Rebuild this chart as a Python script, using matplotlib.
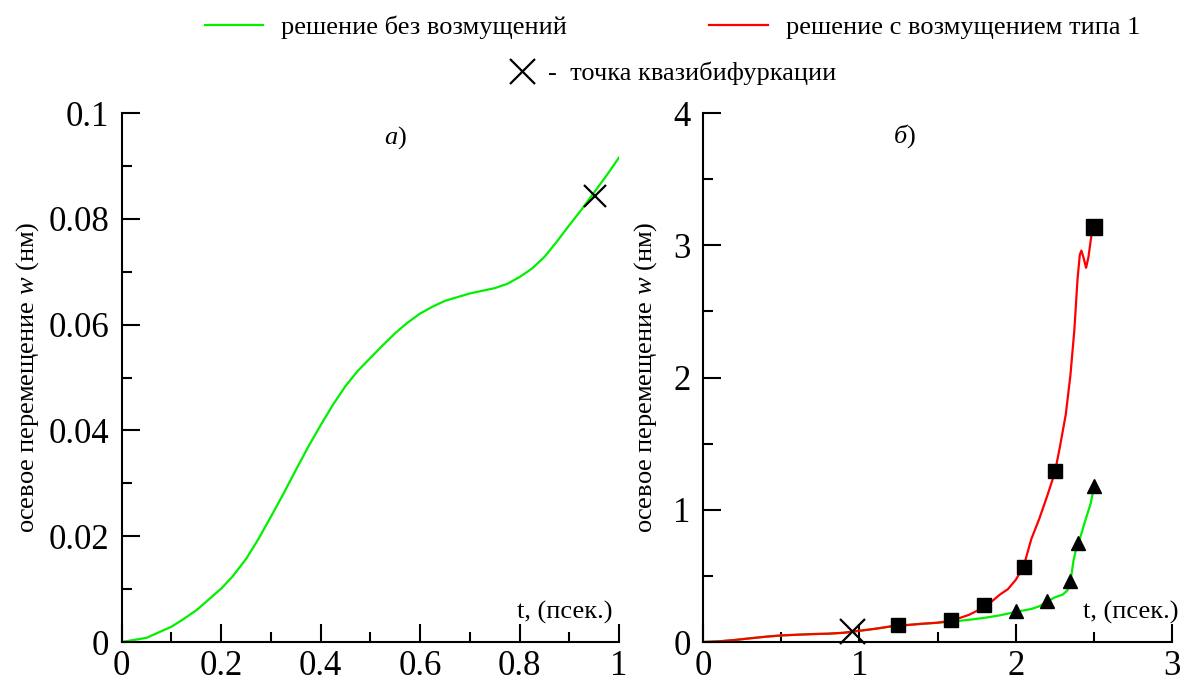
import numpy as np
import matplotlib
matplotlib.use("Agg")
import matplotlib.pyplot as plt
from matplotlib.lines import Line2D
from matplotlib.ticker import MultipleLocator

plt.rcParams['font.family'] = ['Liberation Serif', 'DejaVu Serif']
plt.rcParams['mathtext.fontset'] = 'custom'
plt.rcParams['mathtext.rm'] = 'Liberation Serif'
plt.rcParams['mathtext.it'] = 'Liberation Serif:italic'

# --- panel a: solution without perturbation, t in [0, 1]
t_a = [0.0, 0.05, 0.1, 0.122, 0.15, 0.172, 0.2, 0.222, 0.25, 0.275, 0.3,
       0.325, 0.35, 0.375, 0.4, 0.425, 0.45, 0.475, 0.5, 0.525, 0.55,
       0.575, 0.6, 0.625, 0.65, 0.675, 0.7, 0.725, 0.75, 0.775, 0.8,
       0.825, 0.85, 0.875, 0.9, 0.925, 0.95, 0.975, 1.0]
w_a = [0.0, 0.0008, 0.0029, 0.0042, 0.0060, 0.0078, 0.0101, 0.0123, 0.0157,
       0.0195, 0.0237, 0.0280, 0.0325, 0.0369, 0.0410, 0.0449, 0.0484,
       0.0513, 0.0537, 0.0561, 0.0584, 0.0604, 0.0621, 0.0634, 0.0645,
       0.0652, 0.0659, 0.0664, 0.0669, 0.0677, 0.0690, 0.0706, 0.0728,
       0.0757, 0.0788, 0.0818, 0.0850, 0.0882, 0.0916]
bif_a = (0.952, 0.0844)

# --- panel b: both solutions, t in [0, 2.5]
t_green = [0.0, 0.1, 0.2, 0.3, 0.4, 0.5, 0.6, 0.7, 0.8, 0.9, 1.0, 1.1, 1.2,
           1.3, 1.4, 1.5, 1.55, 1.6, 1.7, 1.8, 1.9, 2.0, 2.1, 2.15, 2.2,
           2.25, 2.3, 2.33, 2.35, 2.37, 2.39, 2.41, 2.44, 2.46, 2.48, 2.5]
w_green = [0.0, 0.005, 0.015, 0.028, 0.040, 0.050, 0.055, 0.060, 0.063,
           0.070, 0.085, 0.100, 0.118, 0.128, 0.138, 0.146, 0.150, 0.155,
           0.168, 0.183, 0.202, 0.228, 0.250, 0.270, 0.305, 0.338, 0.358,
           0.390, 0.455, 0.620, 0.720, 0.780, 0.900, 0.975, 1.050, 1.170]

t_red = [0.0, 0.1, 0.2, 0.3, 0.4, 0.5, 0.6, 0.7, 0.8, 0.9, 1.0, 1.1, 1.2,
         1.3, 1.4, 1.5, 1.55, 1.6, 1.65, 1.7, 1.75, 1.8, 1.85, 1.9, 1.95,
         2.0, 2.05, 2.1, 2.15, 2.2, 2.25, 2.28, 2.32, 2.35, 2.375, 2.395,
         2.41, 2.42, 2.435, 2.45, 2.465, 2.487, 2.5]
w_red = [0.0, 0.005, 0.015, 0.028, 0.040, 0.050, 0.055, 0.060, 0.063,
         0.070, 0.085, 0.100, 0.118, 0.128, 0.138, 0.146, 0.155, 0.168,
         0.185, 0.205, 0.235, 0.275, 0.310, 0.360, 0.400, 0.470, 0.570,
         0.780, 0.930, 1.100, 1.280, 1.460, 1.720, 2.020, 2.360, 2.740,
         2.930, 2.960, 2.900, 2.830, 2.910, 3.100, 3.140]

sq_t = [1.25, 1.583, 1.80, 2.05, 2.25]
sq_w = [0.126, 0.164, 0.277, 0.57, 1.29]
sq_end = (2.5, 3.14)
tri_t = [2.0, 2.2, 2.35, 2.4, 2.5]
tri_w = [0.235, 0.31, 0.46, 0.75, 1.18]
bif_b = (0.955, 0.082)

GREEN = '#00f000'
RED = '#ff0000'
LW = 1.6
TICK_FS = 25
LABEL_FS = 19
ylabel_txt = 'осевое перемещение $\\mathit{w}$ (нм)'

fig = plt.figure(figsize=(11.82, 6.86), dpi=100)
ax_a = fig.add_axes([0.1030, 0.0641, 0.4207, 0.7711])
ax_b = fig.add_axes([0.5948, 0.0641, 0.3968, 0.7711])


def style_axes(ax):
    for side in ('top', 'right'):
        ax.spines[side].set_visible(False)
    for side in ('left', 'bottom'):
        ax.spines[side].set_linewidth(1.5)
    ax.tick_params(which='both', direction='in', width=1.5,
                   labelsize=TICK_FS)
    ax.tick_params(which='major', length=13)
    ax.tick_params(which='minor', length=7)
    ax.tick_params(axis='y', which='major', pad=9)
    ax.tick_params(axis='x', which='major', pad=6)


# panel a
ax_a.plot(t_a, w_a, color=GREEN, lw=LW)
ax_a.plot(*bif_a, marker='x', color='black', ms=16, mew=1.6, ls='none')
ax_a.set_xlim(0, 1)
ax_a.set_ylim(0, 0.1)
ax_a.xaxis.set_minor_locator(MultipleLocator(0.1))
ax_a.yaxis.set_minor_locator(MultipleLocator(0.01))
ax_a.set_xticks([0, 0.2, 0.4, 0.6, 0.8, 1.0],
                ['0', '0.2', '0.4', '0.6', '0.8', '1'])
ax_a.set_yticks([0, 0.02, 0.04, 0.06, 0.08, 0.1],
                ['0', '0.02', '0.04', '0.06', '0.08', '0.1'])
style_axes(ax_a)
ax_a.set_ylabel(ylabel_txt, fontsize=LABEL_FS)
ax_a.yaxis.set_label_coords(-0.163, 0.5)
ax_a.text(0.986, 0.035, 't, (псек.)', transform=ax_a.transAxes,
          ha='right', va='bottom', fontsize=LABEL_FS)
ax_a.text(0.55, 0.953, '$\\mathit{а}$)', transform=ax_a.transAxes,
          ha='center', va='center', fontsize=LABEL_FS)

# panel b
ax_b.plot(t_green, w_green, color=GREEN, lw=LW)
ax_b.plot(t_red, w_red, color=RED, lw=LW)
ax_b.plot(sq_t, sq_w, marker='s', color='black', ms=10, ls='none')
ax_b.plot(*sq_end, marker='s', color='black', ms=12, ls='none')
ax_b.plot(tri_t, tri_w, marker='^', color='black', ms=10, ls='none')
ax_b.plot(*bif_b, marker='x', color='black', ms=18, mew=1.6, ls='none',
          clip_on=False)
ax_b.set_xlim(0, 3)
ax_b.set_ylim(0, 4)
ax_b.xaxis.set_major_locator(MultipleLocator(1))
ax_b.xaxis.set_minor_locator(MultipleLocator(0.5))
ax_b.yaxis.set_major_locator(MultipleLocator(1))
ax_b.yaxis.set_minor_locator(MultipleLocator(0.5))
style_axes(ax_b)
ax_b.set_ylabel(ylabel_txt, fontsize=LABEL_FS)
ax_b.yaxis.set_label_coords(-0.093, 0.5)
ax_b.text(1.013, 0.035, 't, (псек.)', transform=ax_b.transAxes,
          ha='right', va='bottom', fontsize=LABEL_FS)
ax_b.text(0.43, 0.957, '$\\mathit{б}$)', transform=ax_b.transAxes,
          ha='center', va='center', fontsize=LABEL_FS)

# legends
h_green = Line2D([], [], color=GREEN, lw=LW)
h_red = Line2D([], [], color=RED, lw=LW)
fig.legend([h_green, h_red],
           ['решение без возмущений', 'решение с возмущением типа 1'],
           loc='center left', bbox_to_anchor=(0.153, 0.96), ncol=2,
           frameon=False, fontsize=LABEL_FS, handlelength=2.2,
           handletextpad=0.7, columnspacing=5.4)
h_x = Line2D([], [], color='black', marker='x', ms=18, mew=1.6, ls='none')
fig.legend([h_x], ['-  точка квазибифуркации'], loc='center left',
           bbox_to_anchor=(0.41, 0.893), frameon=False, fontsize=LABEL_FS,
           handlelength=1.0, handletextpad=0.5)

fig.savefig('out.png', dpi=100)
